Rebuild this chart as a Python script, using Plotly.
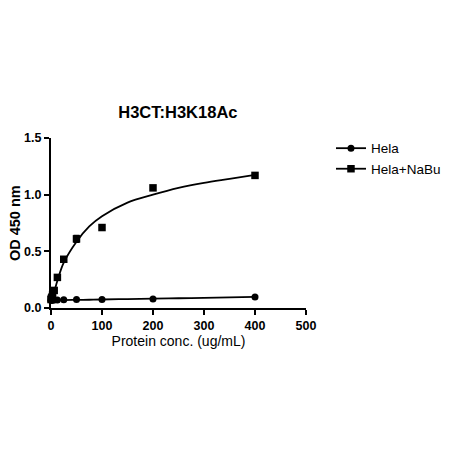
import plotly.graph_objects as go

# measured points (ug/mL vs OD 450)
conc = [0, 0.78, 1.56, 3.125, 6.25, 12.5, 25, 50, 100, 200, 400]
hela = [0.068, 0.069, 0.070, 0.070, 0.071, 0.071, 0.072, 0.074, 0.075, 0.080, 0.097]
nabu = [0.075, 0.085, 0.095, 0.115, 0.155, 0.27, 0.43, 0.61, 0.71, 1.06, 1.17]
nabu_err = [0, 0, 0, 0, 0, 0, 0.01, 0.03, 0, 0, 0.01]

# fitted curves
fit_x = [0, 3, 6, 12.5, 25, 50, 75, 100, 150, 200, 250, 300, 350, 400]
fit_hela = [0.068, 0.068, 0.069, 0.069, 0.070, 0.072, 0.073, 0.075, 0.079, 0.082, 0.086, 0.090, 0.094, 0.098]
fit_nabu = [0.07, 0.10, 0.14, 0.24, 0.40, 0.585, 0.72, 0.81, 0.93, 1.00, 1.06, 1.105, 1.14, 1.175]

xticks = [0, 100, 200, 300, 400, 500]
yticks = [0, 0.5, 1.0, 1.5]
ylabels = ["0.0", "0.5", "1.0", "1.5"]

font = "Liberation Sans, Arial, sans-serif"

fig = go.Figure()
for fy in (fit_hela, fit_nabu):
    fig.add_trace(go.Scatter(x=fit_x, y=fy, mode="lines", line=dict(color="black", width=1.8, shape="spline"),
                             showlegend=False, hoverinfo="skip", cliponaxis=False))
fig.add_trace(go.Scatter(x=conc, y=hela, mode="markers", showlegend=False,
                         marker=dict(symbol="circle", size=7, color="black"), cliponaxis=False))
fig.add_trace(go.Scatter(x=conc, y=nabu, mode="markers", showlegend=False,
                         marker=dict(symbol="square", size=7.5, color="black"),
                         error_y=dict(type="data", array=nabu_err, color="black", thickness=1.5, width=3),
                         cliponaxis=False))

# legend entries (line + marker)
fig.add_trace(go.Scatter(x=[None], y=[None], mode="lines+markers", name="Hela",
                         line=dict(color="black", width=1.8), marker=dict(symbol="circle", size=7, color="black")))
fig.add_trace(go.Scatter(x=[None], y=[None], mode="lines+markers", name="Hela+NaBu",
                         line=dict(color="black", width=1.8), marker=dict(symbol="square", size=7.5, color="black")))

fig.update_layout(
    width=453, height=453,
    margin=dict(l=43, r=155, t=130, b=153, autoexpand=False),
    paper_bgcolor="white", plot_bgcolor="white",
    font=dict(family=font, color="black", size=13),
    title=dict(text="<b>H3CT:H3K18Ac</b>", x=0.375, xanchor="center", y=0.769, yanchor="middle",
               font=dict(size=16.5)),
    showlegend=True,
    legend=dict(x=1.098, y=1.03, xanchor="left", yanchor="top", font=dict(size=13.5),
                bgcolor="rgba(0,0,0,0)", itemwidth=30, tracegroupgap=0),
    xaxis=dict(range=[0, 500], tickvals=xticks, ticktext=["<b>%d</b>" % v for v in xticks],
               showgrid=False, zeroline=False, automargin=False,
               showline=True, linecolor="black", linewidth=2, ticks="outside", ticklen=5,
               tickwidth=1.8, tickcolor="black", tickfont=dict(size=12.5),
               title=dict(text="Protein conc. (ug/mL)", font=dict(size=14), standoff=4)),
    yaxis=dict(range=[0, 1.5], tickvals=yticks, ticktext=["<b>%s</b>" % t for t in ylabels],
               showgrid=False, zeroline=False, automargin=False,
               showline=True, linecolor="black", linewidth=2,
               ticks="outside", ticklen=5, tickwidth=1.8, tickcolor="black", tickfont=dict(size=12.5)),
    annotations=[dict(text="<b>OD 450 nm</b>", xref="paper", yref="paper", x=-0.141, y=0.5,
                      xanchor="center", yanchor="middle", textangle=-90, showarrow=False,
                      font=dict(size=14.5))],
)

fig.write_html("out.html")
